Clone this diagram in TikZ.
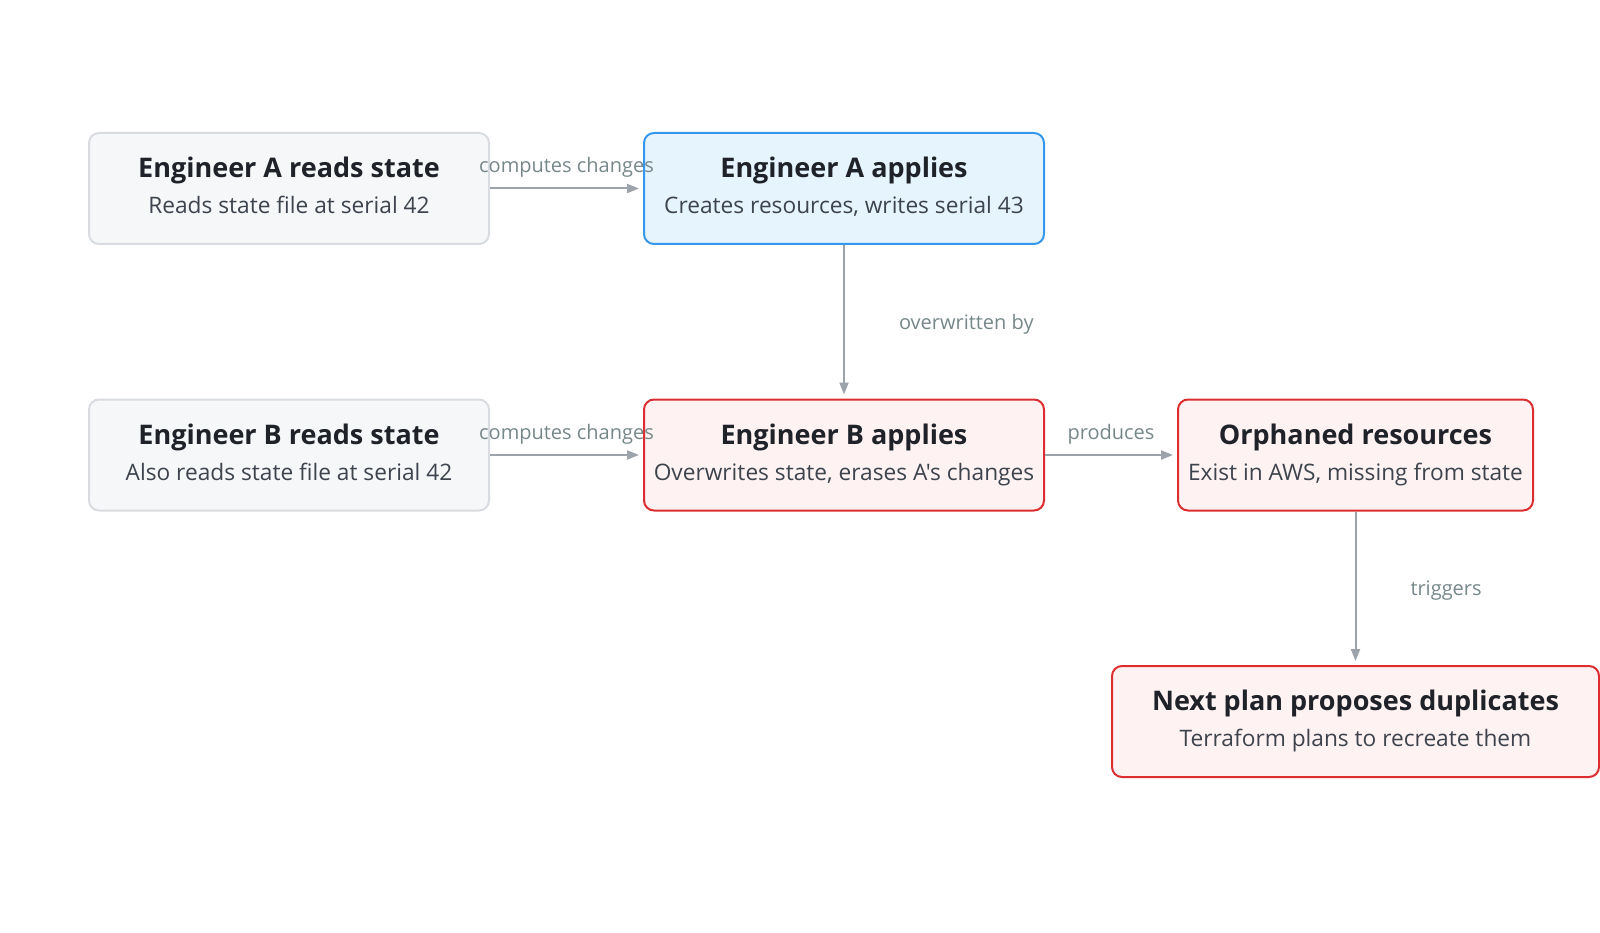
\documentclass[tikz,border=0pt]{standalone}
\usepackage{fontspec}
\setmainfont{Open Sans}[Ligatures=TeXOff]
\usetikzlibrary{arrows.meta}
\definecolor{grayfill}{HTML}{F6F7F9}
\definecolor{grayline}{HTML}{D8DBDF}
\definecolor{bluefill}{HTML}{E6F4FE}
\definecolor{blueline}{HTML}{3597EA}
\definecolor{redfill}{HTML}{FEF2F2}
\definecolor{redline}{HTML}{DC2E31}
\definecolor{arrowc}{HTML}{9CA3AB}
\definecolor{labelc}{HTML}{76878A}
\definecolor{titlec}{HTML}{1F2329}
\definecolor{subc}{HTML}{3D444D}
\newcommand{\ttl}[1]{{\fontsize{27}{31}\selectfont\bfseries\color{titlec}#1}}
\newcommand{\sbt}[1]{{\fontsize{22.7}{27}\selectfont\color{subc}#1}}
\tikzset{
  box/.style={rounded corners=10pt, line width=2pt, minimum height=111pt, align=center, inner sep=0pt, text depth=6pt},
  graybox/.style={box, draw=grayline, fill=grayfill},
  bluebox/.style={box, draw=blueline, fill=bluefill},
  redbox/.style={box, draw=redline, fill=redfill},
  conn/.style={draw=arrowc, line width=2pt, -{Triangle[length=12pt,width=9pt]}, shorten >=4pt},
  lbl/.style={font=\fontsize{20}{24}\selectfont, text=labelc, inner sep=0pt},
}
\begin{document}
\begin{tikzpicture}[x=1pt,y=-1pt]
\useasboundingbox (0,0) rectangle (1600,933);
\node[graybox, minimum width=400pt] (ar) at (289,188.5) {\ttl{Engineer A reads state}\\[11pt]\sbt{Reads state file at serial 42}};
\node[bluebox, minimum width=400pt] (aa) at (844,188.5) {\ttl{Engineer A applies}\\[11pt]\sbt{Creates resources, writes serial 43}};
\node[graybox, minimum width=400pt] (br) at (289,455) {\ttl{Engineer B reads state}\\[11pt]\sbt{Also reads state file at serial 42}};
\node[redbox, minimum width=400pt] (ba) at (844,455) {\ttl{Engineer B applies}\\[11pt]\sbt{Overwrites state, erases A's changes}};
\node[redbox, minimum width=355pt] (or) at (1355.5,455) {\ttl{Orphaned resources}\\[11pt]\sbt{Exist in AWS, missing from state}};
\node[redbox, minimum width=487pt] (np) at (1355.5,721.5) {\ttl{Next plan proposes duplicates}\\[11pt]\sbt{Terraform plans to recreate them}};

\draw[conn] (ar) -- (aa) node[lbl, midway, yshift=21pt] (l1) {computes changes};
\draw[conn] (br) -- (ba) node[lbl, midway, yshift=21pt] (l2) {computes changes};
\draw[conn] (aa) -- (ba) node[lbl, midway, anchor=west, xshift=54pt, yshift=-3pt] (l3) {overwritten by};
\draw[conn] (ba) -- (or) node[lbl, midway, yshift=21pt] (l4) {produces};
\draw[conn] (or) -- (np) node[lbl, midway, anchor=west, xshift=54pt, yshift=-2pt] (l5) {triggers};
\end{tikzpicture}
\end{document}
